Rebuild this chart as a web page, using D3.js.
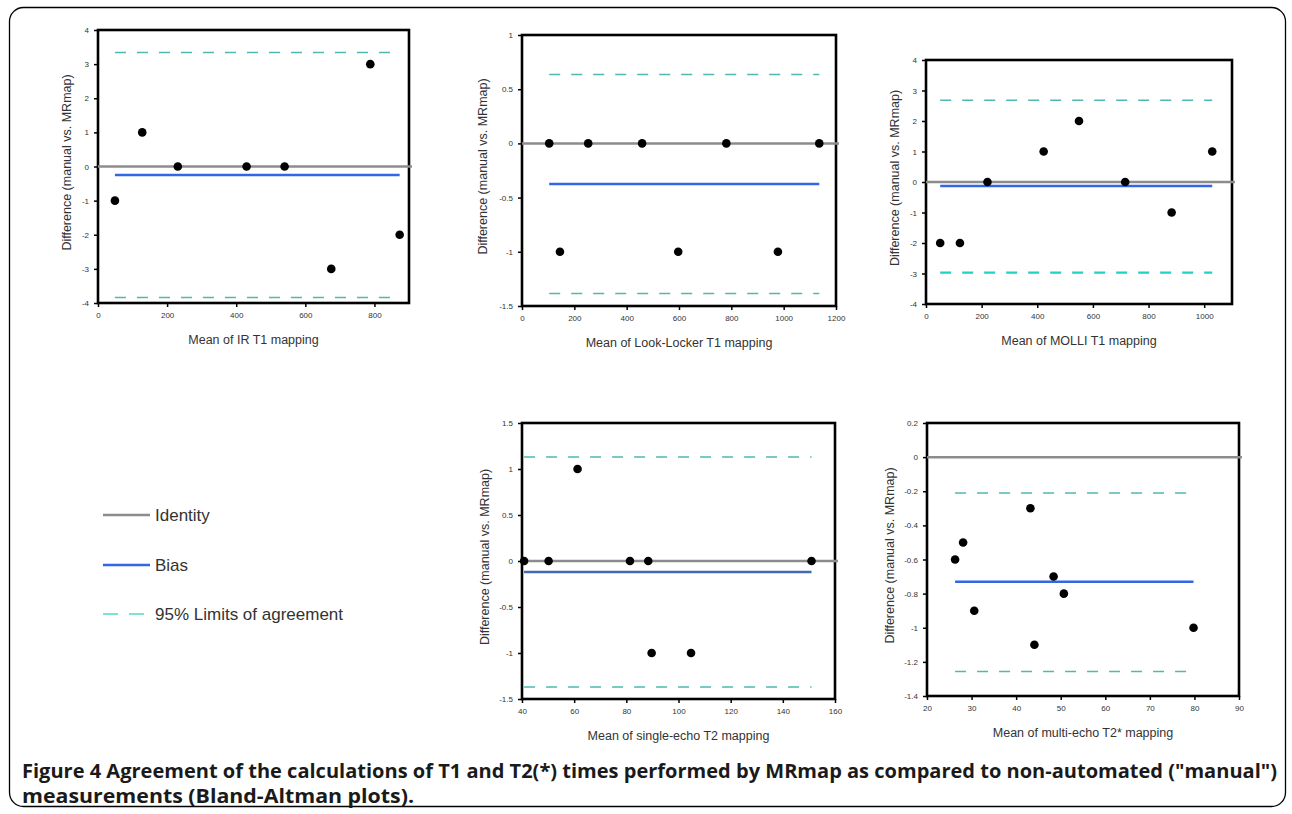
<!DOCTYPE html>
<html>
<head>
<meta charset="utf-8">
<script src="https://cdn.jsdelivr.net/npm/d3@7"></script>
<style>
  body { margin: 0; background: #fff; }
  svg { display: block; }
</style>
</head>
<body>
<svg id="fig" width="1292" height="814"></svg>
<script>
// ---- data ----
const xTitles = ["Mean of IR T1 mapping", "Mean of Look-Locker T1 mapping", "Mean of MOLLI T1 mapping",
                 "Mean of single-echo T2 mapping", "Mean of multi-echo T2* mapping"];
const yTitle = "Difference (manual vs. MRmap)";

const irMean = [49, 128, 231, 430, 540, 675, 788, 873];
const irDiff = [-1, 1, 0, 0, 0, -3, 3, -2];

const llMean = [104, 145, 253, 459, 597, 781, 978, 1136];
const llDiff = [0, -1, 0, 0, -1, 0, -1, 0];

const molliMean = [51, 122, 221, 423, 550, 716, 883, 1029];
const molliDiff = [-2, -2, 0, 1, 2, 0, -1, 1];

const seMean = [40.8, 50.2, 61.3, 81.4, 88.4, 89.7, 104.8, 151];
const seDiff = [0, 0, 1, 0, 0, -1, -1, 0];

const meMean = [26.3, 28.1, 30.6, 43.2, 44.1, 48.4, 50.7, 79.8];
const meDiff = [-0.6, -0.5, -0.9, -0.3, -1.1, -0.7, -0.8, -1.0];

const biasValues = [-0.25, -0.375, -0.13, -0.12, -0.73];
const loaUpper = [3.34, 0.635, 2.68, 1.13, -0.21];
const loaLower = [-3.84, -1.385, -2.97, -1.37, -1.257];

const xDomains = [[0, 900], [0, 1200], [0, 1100], [40, 160], [20, 90]];
const yDomains = [[-4, 4], [-1.5, 1], [-4, 4], [-1.5, 1.5], [-1.4, 0.2]];
const xTickVals = [
  [0, 200, 400, 600, 800],
  [0, 200, 400, 600, 800, 1000, 1200],
  [0, 200, 400, 600, 800, 1000],
  [40, 60, 80, 100, 120, 140, 160],
  [20, 30, 40, 50, 60, 70, 80, 90]
];
const yTickVals = [
  [-4, -3, -2, -1, 0, 1, 2, 3, 4],
  [-1.5, -1, -0.5, 0, 0.5, 1],
  [-4, -3, -2, -1, 0, 1, 2, 3, 4],
  [-1.5, -1, -0.5, 0, 0.5, 1, 1.5],
  [-1.4, -1.2, -1, -0.8, -0.6, -0.4, -0.2, 0, 0.2]
];
const means = [irMean, llMean, molliMean, seMean, meMean];
const diffs = [irDiff, llDiff, molliDiff, seDiff, meDiff];

const legendLabels = ["Identity", "Bias", "95% Limits of agreement"];
const captionLines = [
  "Figure 4 Agreement of the calculations of T1 and T2(*) times performed by MRmap as compared to non-automated (\"manual\")",
  "measurements (Bland-Altman plots)."
];

// ---- layout (pixel boxes of each plot area) ----
const boxes = [
  { x0: 98,  x1: 409,  y0: 30,  y1: 303, yt: 31 },
  { x0: 522, x1: 836,  y0: 35,  y1: 306, yt: 39 },
  { x0: 926, x1: 1232, y0: 60,  y1: 304, yt: 31 },
  { x0: 522, x1: 835,  y0: 423, y1: 699, yt: 37 },
  { x0: 927, x1: 1239, y0: 423, y1: 696, yt: 37 }
];

const colIdentity = "#8c8c8c";
const colBias = "#3366e6";
const colLoa = "#4fb8b0";

const svg = d3.select("#fig");

// outer frame
svg.append("rect")
  .attr("x", 9.5).attr("y", 7.5)
  .attr("width", 1276).attr("height", 799)
  .attr("rx", 14).attr("ry", 14)
  .attr("fill", "none").attr("stroke", "#000").attr("stroke-width", 1.3);

boxes.forEach((b, i) => {
  const x = d3.scaleLinear().domain(xDomains[i]).range([b.x0, b.x1]);
  const y = d3.scaleLinear().domain(yDomains[i]).range([b.y1, b.y0]);
  const g = svg.append("g");
  const fmt = d => String(d);

  const xa = g.append("g")
    .attr("transform", `translate(0,${b.y1})`)
    .call(d3.axisBottom(x).tickValues(xTickVals[i]).tickFormat(fmt).tickSize(4).tickSizeOuter(0).tickPadding(5));
  const ya = g.append("g")
    .attr("transform", `translate(${b.x0},0)`)
    .call(d3.axisLeft(y).tickValues(yTickVals[i]).tickFormat(fmt).tickSize(4).tickSizeOuter(0).tickPadding(5));
  [xa, ya].forEach(a => {
    a.select(".domain").remove();
    a.selectAll(".tick line").attr("stroke", "#000").attr("stroke-width", 1.5);
    a.selectAll(".tick text")
      .attr("fill", "#333")
      .style("font-family", "Liberation Sans, Arial, sans-serif")
      .style("font-size", "8px");
  });

  // plot box
  g.append("rect")
    .attr("x", b.x0).attr("y", b.y0)
    .attr("width", b.x1 - b.x0).attr("height", b.y1 - b.y0)
    .attr("fill", "none").attr("stroke", "#000").attr("stroke-width", 2.6);

  // identity line across whole plot
  g.append("line")
    .attr("x1", b.x0).attr("x2", b.x1 + 3)
    .attr("y1", y(0)).attr("y2", y(0))
    .attr("stroke", colIdentity).attr("stroke-width", 2.5);

  const ext = d3.extent(means[i]);
  // limits of agreement
  [loaUpper[i], loaLower[i]].forEach((v, k) => {
    const strong = (i === 2 && k === 1);
    g.append("line")
      .attr("x1", x(ext[0])).attr("x2", x(ext[1]))
      .attr("y1", y(v)).attr("y2", y(v))
      .attr("stroke", strong ? "#22d0c6" : colLoa)
      .attr("stroke-width", strong ? 2.4 : 1.5)
      .attr("stroke-dasharray", "11,11");
  });
  // bias
  g.append("line")
    .attr("x1", x(ext[0])).attr("x2", x(ext[1]))
    .attr("y1", y(biasValues[i])).attr("y2", y(biasValues[i]))
    .attr("stroke", i === 3 ? "#4468b8" : colBias).attr("stroke-width", 2.6);

  // points
  g.selectAll("circle")
    .data(means[i].map((m, j) => [m, diffs[i][j]]))
    .join("circle")
    .attr("cx", d => x(d[0])).attr("cy", d => y(d[1]))
    .attr("r", 4.3).attr("fill", "#000");

  // titles
  g.append("text")
    .attr("x", (b.x0 + b.x1) / 2).attr("y", b.y1 + 41)
    .attr("text-anchor", "middle")
    .attr("fill", "#333")
    .style("font-family", "Liberation Sans, Arial, sans-serif")
    .style("font-size", "12.5px")
    .text(xTitles[i]);
  g.append("text")
    .attr("transform", `translate(${b.x0 - b.yt + 4},${(b.y0 + b.y1) / 2 - 4}) rotate(-90)`)
    .attr("text-anchor", "middle")
    .attr("fill", "#333")
    .style("font-family", "Liberation Sans, Arial, sans-serif")
    .style("font-size", "12.5px")
    .text(yTitle);
});

// legend
const legY = [515, 565, 614];
const leg = svg.append("g");
legendLabels.forEach((lab, k) => {
  if (k < 2) {
    leg.append("line")
      .attr("x1", 103).attr("x2", 150).attr("y1", legY[k]).attr("y2", legY[k])
      .attr("stroke", k === 0 ? colIdentity : colBias).attr("stroke-width", 2.5);
  } else {
    leg.append("line")
      .attr("x1", 103).attr("x2", 144).attr("y1", legY[k]).attr("y2", legY[k])
      .attr("stroke", "#7fe3d2").attr("stroke-width", 2)
      .attr("stroke-dasharray", "15,11");
  }
  leg.append("text")
    .attr("x", 155).attr("y", legY[k] + 6)
    .attr("fill", "#333")
    .style("font-family", "Liberation Sans, Arial, sans-serif")
    .style("font-size", "17px")
    .text(lab);
});

// caption
const cap = svg.append("g")
  .style("font-family", "Open Sans, sans-serif")
  .style("font-weight", "700")
  .style("font-size", "19px")
  .attr("fill", "#1a1a1a");
cap.append("text")
  .attr("x", 22).attr("y", 778)
  .attr("textLength", 1255).attr("lengthAdjust", "spacingAndGlyphs")
  .text(captionLines[0]);
cap.append("text")
  .attr("x", 22).attr("y", 803)
  .attr("textLength", 392).attr("lengthAdjust", "spacingAndGlyphs")
  .text(captionLines[1]);
</script>
</body>
</html>
